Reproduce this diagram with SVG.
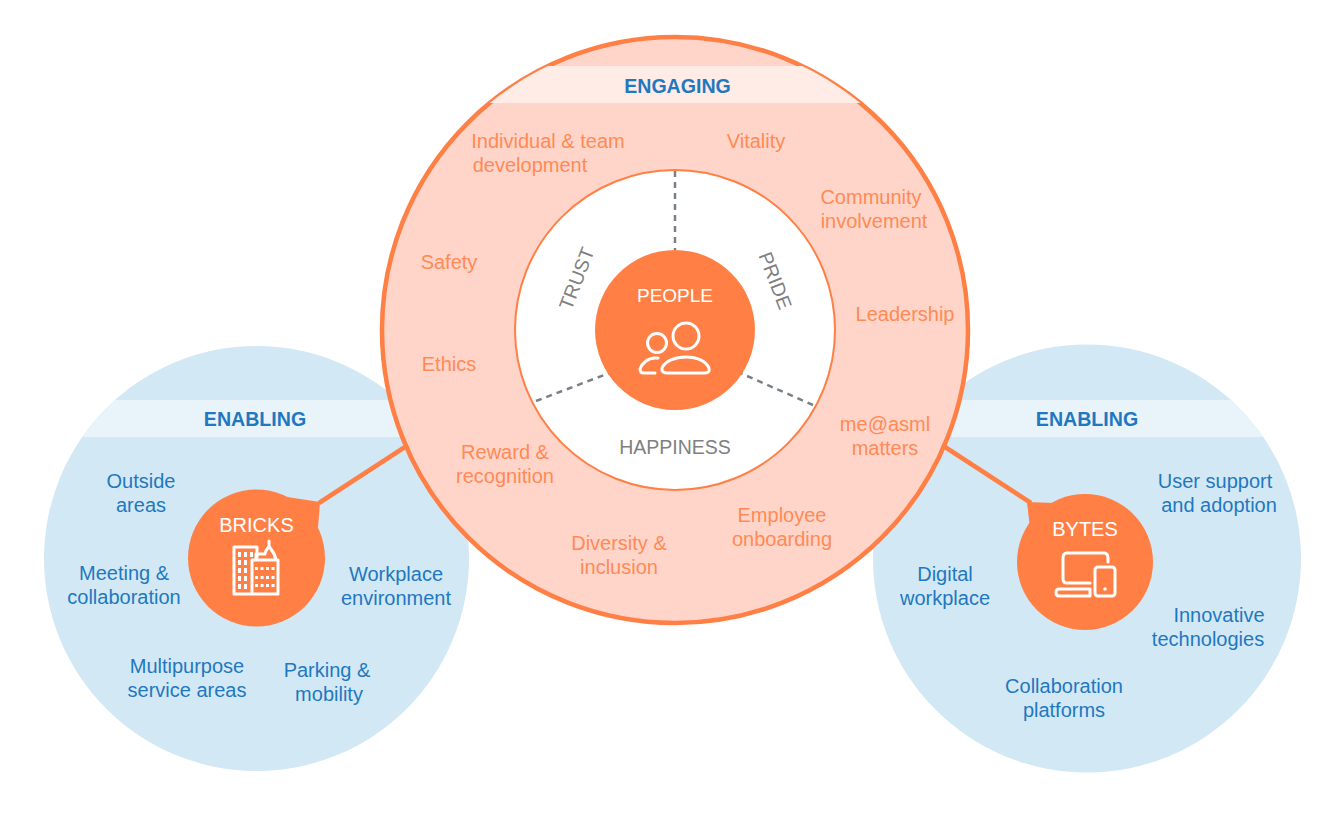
<svg xmlns="http://www.w3.org/2000/svg" width="1340" height="821" viewBox="0 0 1340 821">
<style>
text{font-family:"Liberation Sans",Arial,sans-serif;font-size:20px;text-anchor:middle}
.o{fill:#FF8A55}.b{fill:#1F78C1}.g{fill:#808080;font-size:19.500px}.w{fill:#fff}
.h{font-weight:bold;fill:#1F78C1;font-size:19.600px}
.i{fill:none;stroke:#fff;stroke-width:3;stroke-linejoin:round;stroke-linecap:round}
.d{fill:none;stroke:#7A8087;stroke-width:2.500;stroke-dasharray:6 5}
</style>
<defs>
<clipPath id="cl"><circle cx="256.500" cy="558.500" r="212.500"/></clipPath>
<clipPath id="cr"><circle cx="1087" cy="558.500" r="214"/></clipPath>
<clipPath id="cm"><circle cx="675" cy="330" r="293"/></clipPath>
</defs>
<rect width="1340" height="821" fill="#fff"/>
<g id="enabling-left">
<circle cx="256.500" cy="558.500" r="212.500" fill="#D2E8F4"/>
<rect x="40" y="400" width="430" height="37" fill="#E9F4FA" clip-path="url(#cl)"/>
<text class="h" x="255" y="426">ENABLING</text>
<text class="b" x="141" y="488">Outside</text><text class="b" x="141" y="512">areas</text>
<text class="b" x="124" y="580">Meeting &amp;</text><text class="b" x="124" y="604">collaboration</text>
<text class="b" x="396" y="581">Workplace</text><text class="b" x="396" y="605">environment</text>
<text class="b" x="187" y="673">Multipurpose</text><text class="b" x="187" y="697">service areas</text>
<text class="b" x="327" y="677">Parking &amp;</text><text class="b" x="329" y="701">mobility</text>
</g>
<g id="enabling-right">
<circle cx="1087" cy="558.500" r="214" fill="#D2E8F4"/>
<rect x="870" y="400" width="435" height="37" fill="#E9F4FA" clip-path="url(#cr)"/>
<text class="h" x="1087" y="426">ENABLING</text>
<text class="b" x="1215" y="488">User support</text><text class="b" x="1219" y="512">and adoption</text>
<text class="b" x="945" y="581">Digital</text><text class="b" x="945" y="605">workplace</text>
<text class="b" x="1219" y="622">Innovative</text><text class="b" x="1208" y="646">technologies</text>
<text class="b" x="1064" y="693">Collaboration</text><text class="b" x="1064" y="717">platforms</text>
</g>
<g id="connectors">
<path d="M319 503L405 447" fill="none" stroke="#FF7F45" stroke-width="4.500"/>
<path d="M1031 503L945 447" fill="none" stroke="#FF7F45" stroke-width="4.500"/>
</g>
<g id="engaging">
<circle cx="675" cy="330" r="293" fill="#FFD5CA" stroke="#FF7F45" stroke-width="4.500"/>
<rect x="380" y="66" width="590" height="37" fill="#FFECE6" clip-path="url(#cm)"/>
<text class="h" x="677.500" y="93">ENGAGING</text>
<text class="o" x="548" y="148">Individual &amp; team</text><text class="o" x="530" y="172">development</text>
<text class="o" x="756" y="148">Vitality</text>
<text class="o" x="871" y="204">Community</text><text class="o" x="874" y="228">involvement</text>
<text class="o" x="449" y="269">Safety</text>
<text class="o" x="905" y="321">Leadership</text>
<text class="o" x="449" y="371">Ethics</text>
<text class="o" x="885" y="431">me@asml</text><text class="o" x="885" y="455">matters</text>
<text class="o" x="505" y="459">Reward &amp;</text><text class="o" x="505" y="483">recognition</text>
<text class="o" x="782" y="522">Employee</text><text class="o" x="782" y="546">onboarding</text>
<text class="o" x="619" y="550">Diversity &amp;</text><text class="o" x="619" y="574">inclusion</text>
</g>
<g id="core">
<circle cx="675" cy="330" r="160" fill="#fff" stroke="#FF7F45" stroke-width="2"/>
<path class="d" d="M675 171V250M536 401L612 372M813 405L738 372"/>
<text class="g" transform="translate(583 281) rotate(-69)">TRUST</text>
<text class="g" transform="translate(769 283) rotate(69)">PRIDE</text>
<text class="g" x="675" y="454">HAPPINESS</text>
</g>
<g id="people">
<circle cx="675" cy="330" r="80" fill="#FF7F45"/>
<text class="w" x="675" y="302" style="font-size:19px">PEOPLE</text>
<circle class="i" cx="686" cy="336" r="13"/>
<circle class="i" cx="657" cy="343" r="9.500"/>
<path class="i" d="M668 373H705Q710 373 709 368C706 361 697 357 686 357C675 357 665 361 662 368Q661 373 668 373Z"/>
<path class="i" d="M658 358H655C648 358 642 363 640 369Q640 373 644 373H655"/>
</g>
<g id="bricks">
<path d="M287 497L320 502L318 528Z" fill="#FF7F45"/>
<circle cx="256.500" cy="558" r="68.500" fill="#FF7F45"/>
<text class="w" x="256.500" y="532">BRICKS</text>
<path class="i" d="M252 594H234V547H257V557M252 560H278V594H252ZM256 560V554H265M265 554C265 550 268 549 269 546C270 549 275 552 276 560M269 546V541"/>
<path d="M238 552h3v5h-3zM244 552h3v5h-3zM250 552h3v5h-3zM238 560h3v5h-3zM244 560h3v5h-3zM238 568h3v5h-3zM244 568h3v5h-3zM238 576h3v5h-3zM244 576h3v5h-3zM238 584h3v5h-3zM244 584h3v5h-3zM255 567h3v3h-3zM260.500 567h3v3h-3zM266 567h3v3h-3zM271.500 567h3v3h-3zM255 576h3v3h-3zM260.500 576h3v3h-3zM266 576h3v3h-3zM271.500 576h3v3h-3zM255 584h3v3h-3zM260.500 584h3v3h-3zM266 584h3v3h-3zM271.500 584h3v3h-3z" fill="#fff"/>
</g>
<g id="bytes">
<path d="M1054 503L1027 502L1030 528Z" fill="#FF7F45"/>
<circle cx="1085" cy="562" r="68" fill="#FF7F45"/>
<text class="w" x="1085" y="536">BYTES</text>
<path class="i" d="M1090 583H1067Q1063 583 1063 579V558Q1063 553 1067 553H1104Q1108 553 1108 558V562"/>
<path class="i" d="M1059 589H1090V596H1059Q1056 596 1056 592.500Q1056 589 1059 589Z"/>
<rect class="i" x="1095" y="567" width="20" height="29" rx="3"/>
<circle cx="1105" cy="589" r="1.800" fill="#fff"/>
</g>
</svg>
